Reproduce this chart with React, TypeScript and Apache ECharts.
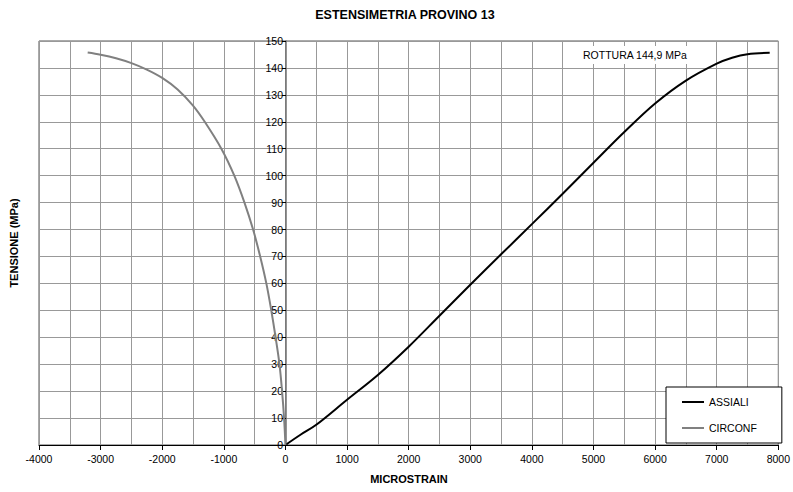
import React, { useEffect, useRef } from "react";
import * as echarts from "echarts";

const xTickMin = -4000;
const xTickMax = 8000;
const yTickMin = 0;
const yTickMax = 150;

const assialiStrain = [0, 250, 500, 1000, 1500, 2000, 2500, 3000, 3500, 4000, 4500, 5000, 5500, 6000, 6500, 7000, 7250, 7500, 7860];
const assialiStress = [0, 3.9, 7.5, 16.8, 26, 36.5, 48, 59.5, 70.8, 82, 93.3, 104.8, 116.2, 126.8, 135.3, 141.6, 143.8, 145.1, 145.6];

const circonfStrain = [0, -22, -55, -97, -160, -230, -310, -410, -525, -665, -830, -1040, -1310, -1500, -1750, -2000, -2250, -2500, -2750, -3000, -3210];
const circonfStress = [0, 10, 20, 30, 40, 50, 60, 70, 80, 90, 100, 110, 120, 126, 132, 136.3, 139.4, 141.8, 143.6, 144.9, 145.7];

const seriesNames = ["ASSIALI", "CIRCONF"];
const titleText = "ESTENSIMETRIA PROVINO 13";
const xName = "MICROSTRAIN";
const yName = "TENSIONE (MPa)";
const noteText = "ROTTURA 144,9 MPa";

const FONT = "'Liberation Sans', Arial, sans-serif";

export default function App() {
  const ref = useRef<HTMLDivElement>(null);
  useEffect(() => {
    if (!ref.current) return;
    const chart = echarts.init(ref.current, undefined, { renderer: "svg" });
    const gridColor = "#999999";
    const gridLeft = 39;
    const gridRight = 13;
    const plotWidth = 793 - gridLeft - gridRight;
    const zeroOffset = (-xTickMin / (xTickMax - xTickMin)) * plotWidth;
    chart.setOption({
      animation: false,
      backgroundColor: "#ffffff",
      textStyle: { fontFamily: FONT },
      grid: {
        left: gridLeft,
        right: gridRight,
        top: 41,
        bottom: 47,
        show: true,
        borderColor: "#555555",
        borderWidth: 1,
        backgroundColor: "transparent",
      },
      xAxis: {
        type: "value",
        min: xTickMin,
        max: xTickMax,
        interval: 1000,
        axisLine: { show: true, onZero: false, lineStyle: { color: "#000000", width: 1 } },
        axisTick: { show: true, length: 5, lineStyle: { color: "#000000" } },
        axisLabel: {
          color: "#000000",
          fontSize: 10.5,
          fontFamily: FONT,
          margin: 8,
          formatter: (v: number) => String(v),
        },
        splitLine: { show: true, lineStyle: { color: gridColor, width: 1 } },
        minorTick: { show: false, splitNumber: 2 },
        minorSplitLine: { show: true, lineStyle: { color: gridColor, width: 1 } },
      },
      yAxis: {
        type: "value",
        min: yTickMin,
        max: yTickMax,
        interval: 10,
        offset: -zeroOffset,
        axisLine: { show: true, onZero: false, lineStyle: { color: "#707070", width: 1.5 } },
        axisTick: { show: true, length: 4, lineStyle: { color: "#000000" } },
        axisLabel: {
          color: "#000000",
          fontSize: 10.5,
          fontFamily: FONT,
          margin: 3,
          formatter: (v: number) => String(v),
        },
        splitLine: { show: true, lineStyle: { color: gridColor, width: 1 } },
      },
      legend: {
        data: seriesNames,
        orient: "vertical",
        left: 666,
        top: 387,
        padding: [9, 25, 9, 16],
        itemGap: 14,
        itemWidth: 22,
        itemHeight: 2,
        icon: "rect",
        backgroundColor: "#ffffff",
        borderColor: "#000000",
        borderWidth: 1,
        borderRadius: 0,
        textStyle: { color: "#000000", fontSize: 10.5, fontFamily: FONT, lineHeight: 12 },
      },
      series: [
        {
          name: seriesNames[0],
          type: "line",
          data: assialiStrain.map((x, i) => [x, assialiStress[i]]),
          showSymbol: false,
          symbol: "none",
          smooth: 0.35,
          lineStyle: { color: "#000000", width: 2 },
          itemStyle: { color: "#000000" },
          z: 3,
        },
        {
          name: seriesNames[1],
          type: "line",
          data: circonfStrain.map((x, i) => [x, circonfStress[i]]),
          showSymbol: false,
          symbol: "none",
          smooth: 0.35,
          lineStyle: { color: "#808080", width: 2 },
          itemStyle: { color: "#808080" },
          z: 3,
        },
      ],
      graphic: [
        {
          type: "text",
          x: 405,
          y: 15,
          style: {
            text: titleText,
            fill: "#000000",
            font: `bold 12.5px ${FONT}`,
            textAlign: "center",
            textVerticalAlign: "middle",
          },
        },
        {
          type: "text",
          x: 409,
          y: 479,
          style: {
            text: xName,
            fill: "#000000",
            font: `bold 11px ${FONT}`,
            textAlign: "center",
            textVerticalAlign: "middle",
          },
        },
        {
          type: "text",
          x: 14,
          y: 243,
          rotation: Math.PI / 2,
          style: {
            text: yName,
            fill: "#000000",
            font: `bold 11px ${FONT}`,
            textAlign: "center",
            textVerticalAlign: "middle",
          },
        },
        {
          type: "rect",
          shape: { x: 577, y: 46, width: 124, height: 18 },
          style: { fill: "#ffffff" },
          z: 10,
        },
        {
          type: "text",
          x: 583,
          y: 55,
          z: 11,
          style: {
            text: noteText,
            fill: "#000000",
            font: `10.5px ${FONT}`,
            textAlign: "left",
            textVerticalAlign: "middle",
          },
        },
      ],
    });
    return () => chart.dispose();
  }, []);
  return (
    <div
      ref={ref}
      style={{ position: "fixed", left: 0, top: 0, width: 793, height: 492, background: "#fff" }}
    />
  );
}
